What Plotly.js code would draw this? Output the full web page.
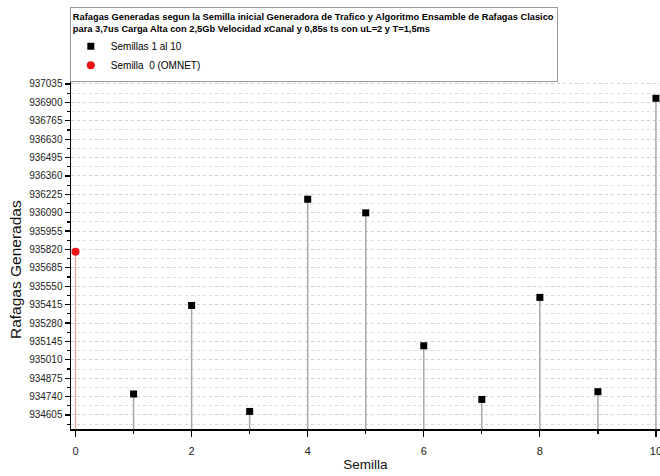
<!DOCTYPE html>
<html>
<head>
<meta charset="utf-8">
<script src="https://cdn.plot.ly/plotly-3.0.1.min.js"></script>
<style>html,body{margin:0;padding:0;background:#fff;}#chart{width:660px;height:476px;}</style>
</head>
<body>
<div id="chart"></div>
<script>
// Data
const semillas = [1, 2, 3, 4, 5, 6, 7, 8, 9, 10];
const rafagas = [934759, 935409, 934631, 936189, 936089, 935113, 934719, 935468, 934776, 936930];
const semillaOmnet = [0];
const rafagasOmnet = [935803];
const yTicks = [934605, 934740, 934875, 935010, 935145, 935280, 935415, 935550, 935685, 935820, 935955, 936090, 936225, 936360, 936495, 936630, 936765, 936900, 937035];
const xTicks = [0, 2, 4, 6, 8, 10];

const yRange = [934502, 937101];
const xRange = [-0.078, 10.07];
const sans = '"Liberation Sans", Arial, sans-serif';

const traces = [
  {
    x: semillas, y: rafagas, type: 'scatter', mode: 'markers',
    name: 'Semillas 1 al 10',
    marker: {symbol: 'square', size: 7, color: '#000'},
    error_y: {type: 'data', symmetric: false, array: rafagas.map(() => 0),
              arrayminus: rafagas.map(v => v - yRange[0]), color: '#a8a8a8', thickness: 1.5, width: 0}
  },
  {
    x: semillaOmnet, y: rafagasOmnet, type: 'scatter', mode: 'markers',
    name: 'Semilla\u00a0\u00a00 (OMNET)',
    marker: {symbol: 'circle', size: 8, color: '#ee1111'},
    error_y: {type: 'data', symmetric: false, array: [0],
              arrayminus: rafagasOmnet.map(v => v - yRange[0]), color: '#f2a0a0', thickness: 1.2, width: 0}
  }
];

const layout = {
  width: 660, height: 476,
  margin: {l: 71, r: 0, t: 75, b: 47},
  paper_bgcolor: '#fff', plot_bgcolor: '#fff',
  showlegend: true,
  legend: {
    x: -0.002, y: 1.193, xanchor: 'left', yanchor: 'top',
    bgcolor: '#fff', bordercolor: '#999', borderwidth: 1,
    font: {family: sans, size: 10, color: '#000'},
    title: {text: '<b>Rafagas Generadas segun la Semilla inicial Generadora de Trafico y Algoritmo Ensamble de Rafagas Clasico<br>para 3,7us Carga Alta con 2,5Gb Velocidad xCanal y 0,85s ts con uL=2 y T=1,5ms</b>',
            side: 'top', font: {family: sans, size: 9.3, color: '#000'}},
    tracegroupgap: 0, itemwidth: 30
  },
  xaxis: {
    range: xRange, tickvals: xTicks, ticktext: xTicks.map(String),
    showgrid: false, zeroline: false,
    showline: true, linecolor: '#000', linewidth: 1.5,
    ticks: 'outside', ticklen: 6, tickwidth: 1.2, tickcolor: '#000',
    minor: {dtick: 1, tick0: 0, ticks: 'outside', ticklen: 3, tickcolor: '#000', showgrid: false},
    tickfont: {family: sans, size: 11, color: '#222'},
    ticklabeloverflow: 'allow', ticklabelstandoff: 5,
    title: {text: 'Semilla', font: {family: sans, size: 13.5, color: '#111'}, standoff: 4},
    automargin: false
  },
  yaxis: {
    range: yRange, tickvals: yTicks, ticktext: yTicks.map(String),
    showgrid: true, gridcolor: '#cfcfcf', griddash: 'dot', gridwidth: 1,
    zeroline: false,
    showline: true, linecolor: '#000', linewidth: 1.5,
    ticks: 'outside', ticklen: 5, tickwidth: 1.2, tickcolor: '#000',
    minor: {dtick: 67.5, tick0: 934605, ticks: 'outside', ticklen: 3, tickcolor: '#000',
            showgrid: true, gridcolor: '#dcdcdc', griddash: 'dot', gridwidth: 1},
    tickfont: {family: sans, size: 10, color: '#222'},
    automargin: false
  },
  annotations: [{
    text: 'Rafagas Generadas', textangle: -90, showarrow: false,
    xref: 'paper', yref: 'paper', x: -0.0945, y: 0.45, xanchor: 'center', yanchor: 'middle',
    font: {family: sans, size: 15.5, color: '#111'}
  }]
};

Plotly.newPlot('chart', traces, layout, {displayModeBar: false, staticPlot: true});
</script>
</body>
</html>
